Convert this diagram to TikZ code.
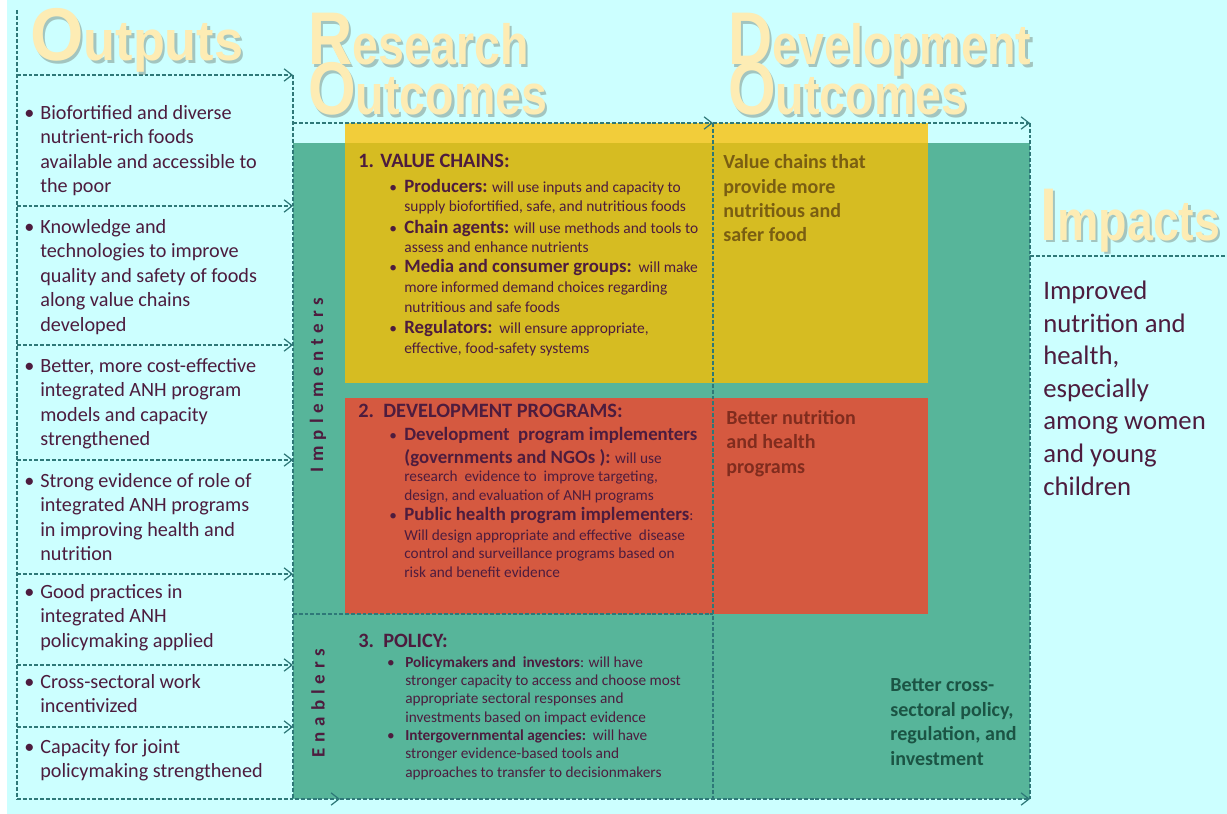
\documentclass[tikz,border=0pt]{standalone}
\usepackage{graphicx}
\usepackage{fontspec}
\setmainfont{Carlito}
\newfontfamily\headfont{Liberation Sans}
\usetikzlibrary{arrows.meta}

\definecolor{skyback}{RGB}{204,255,255}
\definecolor{tealbox}{RGB}{87,181,154}
\definecolor{mustard}{RGB}{214,188,34}
\definecolor{mustardtop}{RGB}{242,205,58}
\definecolor{brick}{RGB}{213,89,64}
\definecolor{dashline}{RGB}{46,120,120}
\definecolor{plum}{RGB}{77,28,62}
\definecolor{headyellow}{RGB}{253,236,180}
\definecolor{headshadow}{RGB}{130,150,140}
\definecolor{olivetxt}{RGB}{122,94,18}
\definecolor{rusttxt}{RGB}{128,44,30}
\definecolor{pinetxt}{RGB}{27,84,68}

\newcommand{\headword}[3]{\scalebox{#3}[1]{\fontsize{42.5}{44}\selectfont #1\fontsize{32.3}{34}\selectfont #2}}
% heading with soft shadow: name, x, y, first letter, rest, squeeze
\newcommand{\ribbonhead}[6]{%
	\node[headtxt, text=headshadow, opacity=0.55] (#1s) at (#2+2.5,#3+2.5) {\headword{#4}{#5}{#6}};
	\node[headtxt] (#1) at (#2,#3) {\headword{#4}{#5}{#6}};}
\newcommand{\itembul}[1]{\llap{\textbullet\hspace{#1}}}
\newcommand{\vclabel}[1]{{\fontsize{10.7}{11}\selectfont\bfseries #1}}

\begin{document}
\begin{tikzpicture}[x=0.02cm,y=-0.02cm]
\tikzstyle{every node}=[inner sep=0pt, text=plum]
\tikzstyle{headtxt}=[anchor=base west, font=\headfont\bfseries, text=headyellow]
\tikzstyle{guide}=[dashline, line width=0.7pt, dash pattern=on 2.2pt off 1.1pt]
\tikzstyle{guidearrow}=[guide, -{Straight Barb[length=4.5pt,width=7pt]}]
% multi-line nodes sit on the baseline of their last line
\tikzstyle{outitem}=[anchor=base west, align=left, font=\fontsize{11.5}{13.9}\selectfont]
\tikzstyle{sechead}=[anchor=base west, font=\fontsize{11.6}{13}\selectfont\bfseries]
\tikzstyle{vcitem}=[anchor=base west, align=left, font=\fontsize{8.8}{11.3}\selectfont]
\tikzstyle{dpitem}=[anchor=base west, align=left, font=\fontsize{8.7}{10.5}\selectfont]
\tikzstyle{politem}=[anchor=base west, align=left, font=\fontsize{8.7}{10.4}\selectfont]
\tikzstyle{rtext}=[anchor=base west, align=left, font=\fontsize{11.4}{13.9}\selectfont\bfseries]
\tikzstyle{sidelabel}=[rotate=90, font=\fontsize{10.8}{12}\selectfont\bfseries\addfontfeatures{LetterSpace=31}]

	\useasboundingbox (0,0) rectangle (1227,814);
	\fill[white] (0,0) rectangle (1227,814);
	\fill[skyback] (7,0) rectangle (1227,814);

	% coloured panels
	\fill[tealbox] (293,143) rectangle (1030,799);
	\fill[mustardtop] (345,123) rectangle (928,143);
	\fill[mustard] (345,143) rectangle (928,383);
	\fill[brick] (345,398) rectangle (928,614);

	% frame points
	\coordinate (oTop) at (17,10);
	\coordinate (oBot) at (17,799);
	\coordinate (rTop) at (293,123);
	\coordinate (mTop) at (713,123);
	\coordinate (dTop) at (1030,123);
	\coordinate (rBot) at (340,799);
	\coordinate (dBot) at (1030,799);

	\draw[guide] (oTop) -- (oBot);
	\foreach \yy in {75,206,345,460,574,665,727} {
		\draw[guidearrow] (17,\yy) -- (293,\yy);
	}
	\draw[guide] (293,75) -- (293,799);
	\draw[guidearrow] (oBot) -- (rBot);
	\draw[guidearrow] (rBot) -- (dBot);
	\draw[guidearrow] (rTop) -- (mTop);
	\draw[guidearrow] (mTop) -- (dTop);
	\draw[guide] (mTop) -- (713,799);
	\draw[guide] (dTop) -- (dBot);
	\draw[guide] (293,614) -- (713,614);
	\draw[guide] (1030,256) -- (1227,256);

	% headings
	\ribbonhead{hout}{30}{61}{O}{utputs}{0.92}
	\ribbonhead{hres}{308}{65}{R}{esearch}{0.82}
	\ribbonhead{hreso}{308}{115}{O}{utcomes}{0.82}
	\ribbonhead{hdev}{728}{65}{D}{evelopment}{0.82}
	\ribbonhead{hdevo}{728}{115}{O}{utcomes}{0.82}
	\ribbonhead{himp}{1040}{240}{I}{mpacts}{0.82}

	% outputs
	\node[outitem] (out1) at (40,192.5) {\itembul{3.4pt}Biofortified and diverse\\nutrient-rich foods\\available and accessible to\\the poor};
	\node[outitem] (out2) at (40,331) {\itembul{3.4pt}Knowledge and\\technologies to improve\\quality and safety of foods\\along value chains\\developed};
	\node[outitem] (out3) at (40,445.5) {\itembul{3.4pt}Better, more cost-effective\\integrated ANH program\\models and capacity\\strengthened};
	\node[outitem] (out4) at (40,560.5) {\itembul{3.4pt}Strong evidence of role of\\integrated ANH programs\\in improving health and\\nutrition};
	\node[outitem] (out5) at (40,647) {\itembul{3.4pt}Good practices in\\integrated ANH\\policymaking applied};
	\node[outitem] (out6) at (40,712.5) {\itembul{3.4pt}Cross-sectoral work\\incentivized};
	\node[outitem] (out7) at (40,777.5) {\itembul{3.4pt}Capacity for joint\\policymaking strengthened};

	\node[sidelabel] (impl) at (318,385) {Implementers};
	\node[sidelabel] (enab) at (318,703) {Enablers};

	% research outcomes
	\node[sechead] (vc) at (358,168) {1. VALUE CHAINS:};
	\node[vcitem] (vc1) at (404,212) {\itembul{4.2pt}\vclabel{Producers:} will use inputs and capacity to\\supply biofortified, safe, and nutritious foods};
	\node[vcitem] (vc2) at (404,253) {\itembul{4.2pt}\vclabel{Chain agents:} will use methods and tools to\\assess and enhance nutrients};
	\node[vcitem] (vc3) at (404,312) {\itembul{4.2pt}\vclabel{Media and consumer groups:}\ \ will make\\more informed demand choices regarding\\nutritious and safe foods};
	\node[vcitem] (vc4) at (404,353) {\itembul{4.2pt}\vclabel{Regulators:}\ \ will ensure appropriate,\\effective, food-safety systems};

	\node[sechead] (dp) at (358,417) {2.\ \ DEVELOPMENT PROGRAMS:};
	\node[dpitem] (dp1) at (404,500) {\itembul{4.2pt}\vclabel{Development\ \ program implementers}\\[2.5pt]\vclabel{(governments and NGOs ):} will use\\research\ \ evidence to\ \ improve targeting,\\design, and evaluation of ANH programs};
	\node[dpitem] (dp2) at (404,577) {\itembul{4.2pt}\vclabel{Public health program implementers}:\\[0.9pt]Will design appropriate and effective\ \ disease\\control and surveillance programs based on\\risk and benefit evidence};

	\node[sechead] (pol) at (358,647) {3.\ \ POLICY:};
	\node[politem] (pol1) at (405,722) {\itembul{6pt}\textbf{Policymakers and\ \ investors}: will have\\stronger capacity to access and choose most\\appropriate sectoral responses and\\investments based on impact evidence};
	\node[politem] (pol2) at (405,777) {\itembul{6pt}\textbf{Intergovernmental agencies:}\ \ will have\\stronger evidence-based tools and\\approaches to transfer to decisionmakers};

	% development outcomes
	\node[rtext, text=olivetxt] (vcout) at (723,242) {Value chains that\\provide more\\nutritious and\\safer food};
	\node[rtext, text=rusttxt] (dpout) at (726,473) {Better nutrition\\and health\\programs};
	\node[rtext, text=pinetxt] (polout) at (890,765) {Better cross-\\sectoral policy,\\regulation, and\\investment};

	% impacts
	\node[anchor=base west, align=left, font=\fontsize{15.2}{18.5}\selectfont] (imp) at (1043,495) {Improved\\nutrition and\\health,\\especially\\among women\\and young\\children};
\end{tikzpicture}
\end{document}
